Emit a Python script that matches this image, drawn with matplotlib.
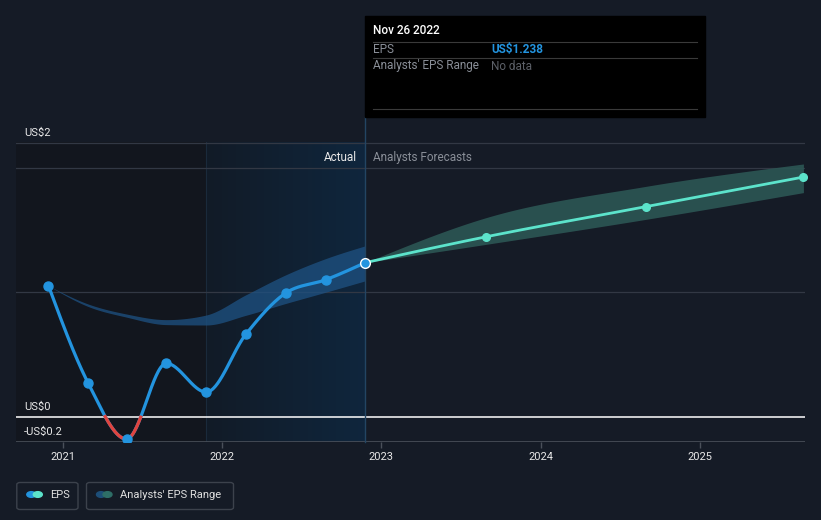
import numpy as np
import matplotlib.pyplot as plt
from matplotlib.patches import Rectangle, FancyBboxPatch, Circle
from matplotlib.lines import Line2D
from matplotlib.colors import LinearSegmentedColormap

plt.rcParams['font.family'] = ['Roboto', 'DejaVu Sans']

# EPS actuals (decimal year, US$)
eps_dates = [2020.91, 2021.16, 2021.40, 2021.65, 2021.90, 2022.15, 2022.40, 2022.65, 2022.90]
eps_values = [1.052, 0.268, -0.179, 0.429, 0.198, 0.664, 0.994, 1.100, 1.238]

# analysts' EPS range in the past
past_low = [1.052, 0.885, 0.80, 0.74, 0.737, 0.815, 0.91, 1.00, 1.092]
past_high = [1.052, 0.905, 0.825, 0.78, 0.817, 0.98, 1.14, 1.27, 1.373]

# analysts' forecasts
fc_dates = [2022.90, 2023.66, 2024.66, 2025.65]
fc_values = [1.238, 1.446, 1.687, 1.925]
fc_low = [1.238, 1.385, 1.585, 1.80]
fc_high = [1.238, 1.60, 1.85, 2.03]

years = [2021, 2022, 2023, 2024, 2025]
ylabels = {2.2: 'US$2', 0.0: 'US$0', -0.2: '-US$0.2'}

BG = '#151b26'
BLUE = '#2394df'
TEAL = '#5ce3cb'
RED = '#e0443f'
W, H = 821, 520


def fx(px):
    return px / W


def fy(py):
    return 1 - py / H


def monotone(x, y, n=60):
    # monotone cubic (like d3 curveMonotoneX)
    x = np.asarray(x, float)
    y = np.asarray(y, float)
    h = np.diff(x)
    s = np.diff(y) / h
    m = np.zeros_like(y)
    sg = lambda v: -1.0 if v < 0 else 1.0
    for i in range(1, len(x) - 1):
        p = (s[i - 1] * h[i] + s[i] * h[i - 1]) / (h[i - 1] + h[i])
        m[i] = (sg(s[i - 1]) + sg(s[i])) * min(abs(s[i - 1]), abs(s[i]), 0.5 * abs(p))
    m[0] = (3 * s[0] - m[1]) / 2
    m[-1] = (3 * s[-1] - m[-2]) / 2
    xs, ys = [], []
    t = np.linspace(0, 1, n)
    for i in range(len(x) - 1):
        h00 = 2 * t**3 - 3 * t**2 + 1
        h10 = t**3 - 2 * t**2 + t
        h01 = -2 * t**3 + 3 * t**2
        h11 = t**3 - t**2
        xs.append(x[i] + t * h[i])
        ys.append(h00 * y[i] + h10 * h[i] * m[i] + h01 * y[i + 1] + h11 * h[i] * m[i + 1])
    return np.concatenate(xs), np.concatenate(ys)


fig = plt.figure(figsize=(8.21, 5.2), dpi=100, facecolor=BG)
ax = fig.add_axes([fx(16), fy(442.3), fx(805) - fx(16), fy(142.3) - fy(442.3)])
ax.set_facecolor(BG)
x0, x1 = 2020.706, 2025.66
y0, y1 = -0.205, 2.204
ax.set_xlim(x0, x1)
ax.set_ylim(y0, y1)
for sp in ax.spines.values():
    sp.set_visible(False)

# background regions
ax.axvspan(x0, eps_dates[4], color='#12161e', zorder=0, lw=0)
grad = LinearSegmentedColormap.from_list('g', ['#121b27', '#0f263d'])
ax.imshow(np.linspace(0, 1, 100)[None, :], cmap=grad, aspect='auto',
          extent=[eps_dates[4], eps_dates[-1], y0, y1], zorder=0.5)
ax.axvline(eps_dates[4], color='#1a2a3b', lw=0.8, zorder=0.6)

# grid
for g in [2.2, 2.0, 1.0]:
    ax.axhline(g, color='#323844', lw=0.9, zorder=1)
ax.axhline(y0 + 0.002, color='#4a505a', lw=1.2, zorder=1)
ax.axhline(0, color='white', lw=1.1, zorder=1)

# past range band
bx, blo = monotone(eps_dates, past_low)
_, bhi = monotone(eps_dates, past_high)
ax.fill_between(bx, blo, bhi, color='#1e5283', alpha=0.75, lw=0, zorder=2)

# forecast band
fx_, flo = monotone(fc_dates, fc_low)
_, fhi = monotone(fc_dates, fc_high)
ax.fill_between(fx_, flo, fhi, color='#2c5654', alpha=0.9, lw=0, zorder=2)

# hover line
ax.plot([eps_dates[-1]] * 2, [y0, 2.41], color='#234563', lw=1, zorder=2.5, clip_on=False)

# EPS line
ex, ey = monotone(eps_dates, eps_values)
ax.plot(ex, ey, color=BLUE, lw=2.3, zorder=3, solid_capstyle='round')
ax.plot(ex, np.where(ey < 0.004, ey, np.nan), color=RED, lw=2.3, zorder=3.1)
ax.plot(eps_dates[:-1], eps_values[:-1], 'o', color=BLUE, ms=6.5, zorder=4)

# forecast line
cx, cy = monotone(fc_dates, fc_values)
ax.plot(cx, cy, color=TEAL, lw=2, zorder=3, clip_on=False)
ax.plot(fc_dates[1:], fc_values[1:], 'o', color=TEAL, ms=5.5, zorder=4, clip_on=False)
ax.plot(eps_dates[-1], eps_values[-1], 'o', color=BLUE, ms=7, mec='white', mew=1, zorder=5)

# x ticks
ax.set_xticks(years)
ax.set_xticklabels([str(y) for y in years])
ax.set_yticks([])
ax.tick_params(axis='x', colors='#4a505a', length=4, width=1, labelcolor='#e8e8e8',
               labelsize=8, pad=3)

# y labels
for val, lab in ylabels.items():
    ax.text(2020.755, val + 0.04, lab, color='#e8e8e8', fontsize=8, va='bottom', ha='left')

ax.text(2022.85, 2.085, 'Actual', color='#e8e8e8', fontsize=8.5, ha='right', va='center')
ax.text(2022.95, 2.085, 'Analysts Forecasts', color='#8a8f98', fontsize=8.5, ha='left', va='center')

# tooltip
fig.patches.append(Rectangle((fx(365), fy(117)), fx(705) - fx(365), fy(16) - fy(117),
                             transform=fig.transFigure, color='black', zorder=10))
for ly in [41.7, 58.3, 109.3]:
    fig.lines.append(Line2D([fx(373), fx(697)], [fy(ly), fy(ly)], transform=fig.transFigure,
                            color='#3a3a3a', lw=0.8, zorder=11))
fig.text(fx(373), fy(31), 'Nov 26 2022', color='white', fontsize=8.5, weight='medium', va='center', zorder=12)
fig.text(fx(373), fy(49.5), 'EPS', color='#8a8f98', fontsize=8.5, va='center', zorder=12)
fig.text(fx(491), fy(49.5), 'US$1.238', color=BLUE, fontsize=8.5, weight='bold', va='center', zorder=12)
fig.text(fx(373), fy(66), "Analysts' EPS Range", color='#8a8f98', fontsize=8.5, va='center', zorder=12)
fig.text(fx(491), fy(66), 'No data', color='#5c6068', fontsize=8.5, va='center', zorder=12)

# legend
def legend_item(xl, xr, c1, c2, label):
    fig.patches.append(FancyBboxPatch((fx(xl), fy(509.5)), fx(xr) - fx(xl), fy(482.5) - fy(509.5),
                                      boxstyle='round,pad=0,rounding_size=0.004',
                                      transform=fig.transFigure, fc='none', ec='#3c424c', lw=1))
    cy_ = fy(494.5)
    r = 4.5 / W
    fig.patches.append(Circle((fx(xl + 14.5), cy_), r, transform=fig.transFigure, color=c1))
    fig.patches.append(Circle((fx(xl + 21), cy_), r, transform=fig.transFigure, color=c2))
    fig.text(fx(xl + 33), cy_, label, color='#e0e0e0', fontsize=8, va='center')

legend_item(16.8, 78, BLUE, TEAL, 'EPS')
legend_item(86.5, 233.5, '#1d4e78', '#2e6e67', "Analysts' EPS Range")

fig.savefig('out.png', dpi=100, facecolor=BG)
